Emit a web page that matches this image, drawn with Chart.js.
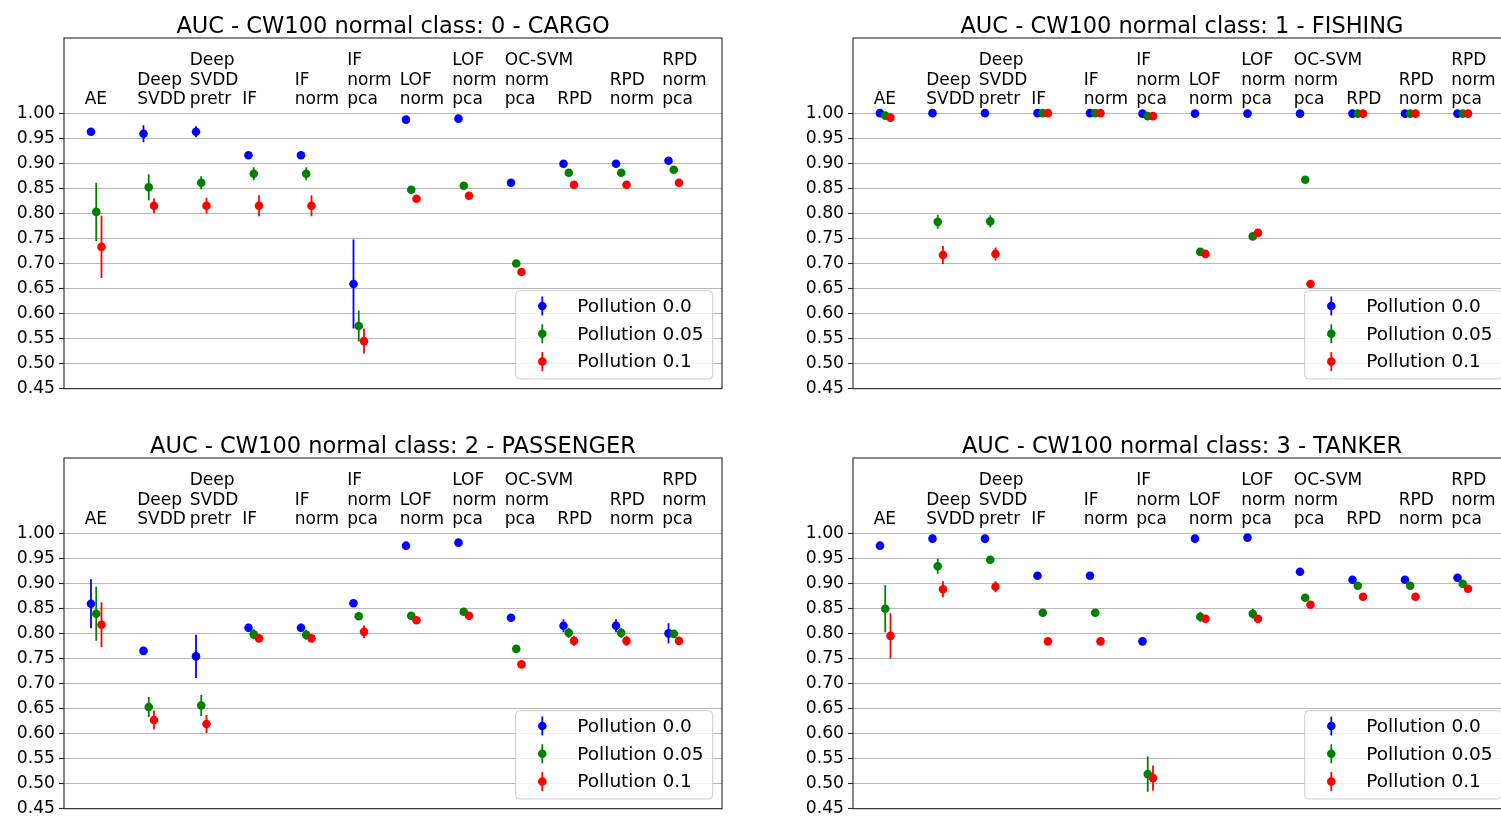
<!DOCTYPE html>
<html>
<head>
<meta charset="utf-8">
<script src="https://cdn.jsdelivr.net/npm/chart.js@4.4.1/dist/chart.umd.min.js"></script>
<style>
  html, body { margin: 0; padding: 0; background: #fff; width: 1501px; height: 816px; overflow: hidden; }
  canvas { position: absolute; }
</style>
</head>
<body>
<canvas id="g0" width="730" height="403" style="left:0;top:0"></canvas>
<canvas id="g1" width="730" height="403" style="left:789px;top:0"></canvas>
<canvas id="g2" width="730" height="403" style="left:0;top:420px"></canvas>
<canvas id="g3" width="730" height="403" style="left:789px;top:420px"></canvas>
<script>
// ===============================
// DATA
// ===============================

const methods = [
  ["AE"], ["Deep", "SVDD"], ["Deep", "SVDD", "pretr"], ["IF"], ["IF", "norm"],
  ["IF", "norm", "pca"], ["LOF", "norm"], ["LOF", "norm", "pca"], ["OC-SVM", "norm", "pca"],
  ["RPD"], ["RPD", "norm"], ["RPD", "norm", "pca"]
];
const yTicks = [0.45, 0.50, 0.55, 0.60, 0.65, 0.70, 0.75, 0.80, 0.85, 0.90, 0.95, 1.00];
const seriesNames = ["Pollution 0.0", "Pollution 0.05", "Pollution 0.1"];
const titles = [
  "AUC - CW100 normal class: 0 - CARGO",
  "AUC - CW100 normal class: 1 - FISHING",
  "AUC - CW100 normal class: 2 - PASSENGER",
  "AUC - CW100 normal class: 3 - TANKER"
];

// class 0 - CARGO
const cargoP00 = [0.963, 0.959, 0.963, 0.916, 0.916, 0.659, 0.987, 0.989, 0.861, 0.899, 0.899, 0.905];
const cargoE00 = [0.003, 0.017, 0.011, 0.003, 0.003, 0.089, 0, 0, 0, 0, 0, 0];
const cargoP05 = [0.803, 0.852, 0.861, 0.879, 0.879, 0.575, 0.847, 0.855, 0.700, 0.881, 0.881, 0.887];
const cargoE05 = [0.058, 0.026, 0.013, 0.013, 0.013, 0.031, 0.005, 0.004, 0, 0, 0, 0];
const cargoP10 = [0.733, 0.815, 0.815, 0.815, 0.815, 0.545, 0.829, 0.835, 0.683, 0.857, 0.857, 0.861];
const cargoE10 = [0.062, 0.015, 0.016, 0.021, 0.021, 0.025, 0, 0, 0, 0, 0, 0];

// class 1 - FISHING
const fishingP00 = [1.000, 1.000, 1.000, 1.000, 1.000, 0.999, 0.999, 0.999, 0.999, 0.999, 0.999, 0.999];
const fishingE00 = [0, 0, 0, 0, 0, 0, 0, 0, 0, 0, 0, 0];
const fishingP05 = [0.995, 0.783, 0.784, 1.000, 1.000, 0.994, 0.723, 0.754, 0.867, 0.999, 0.999, 0.999];
const fishingE05 = [0, 0.014, 0.012, 0, 0, 0, 0, 0, 0, 0, 0, 0];
const fishingP10 = [0.991, 0.717, 0.719, 1.000, 1.000, 0.994, 0.719, 0.761, 0.659, 0.999, 0.999, 0.999];
const fishingE10 = [0, 0.018, 0.013, 0, 0, 0, 0, 0, 0, 0, 0, 0];

// class 2 - PASSENGER
const passengerP00 = [0.859, 0.765, 0.754, 0.811, 0.811, 0.860, 0.975, 0.981, 0.831, 0.815, 0.815, 0.800];
const passengerE00 = [0.049, 0, 0.043, 0.008, 0.008, 0, 0, 0, 0, 0.013, 0.013, 0.020];
const passengerP05 = [0.839, 0.653, 0.656, 0.798, 0.797, 0.834, 0.835, 0.843, 0.769, 0.801, 0.801, 0.799];
const passengerE05 = [0.054, 0.020, 0.021, 0.010, 0.010, 0, 0, 0, 0, 0.010, 0.010, 0];
const passengerP10 = [0.817, 0.627, 0.619, 0.790, 0.790, 0.803, 0.826, 0.835, 0.738, 0.785, 0.785, 0.785];
const passengerE10 = [0.045, 0.019, 0.018, 0.007, 0.007, 0.013, 0, 0, 0, 0.010, 0.010, 0.006];

// class 3 - TANKER
const tankerP00 = [0.975, 0.989, 0.989, 0.915, 0.915, 0.784, 0.989, 0.991, 0.923, 0.907, 0.907, 0.911];
const tankerE00 = [0, 0, 0, 0, 0, 0, 0, 0, 0, 0, 0, 0];
const tankerP05 = [0.849, 0.934, 0.947, 0.841, 0.841, 0.519, 0.833, 0.839, 0.871, 0.895, 0.895, 0.899];
const tankerE05 = [0.047, 0.015, 0.004, 0, 0, 0.035, 0.010, 0.010, 0, 0, 0, 0];
const tankerP10 = [0.795, 0.888, 0.893, 0.784, 0.784, 0.511, 0.829, 0.829, 0.857, 0.873, 0.873, 0.889];
const tankerE10 = [0.045, 0.016, 0.011, 0, 0, 0.025, 0, 0, 0, 0, 0, 0];

// ===============================
// STYLE
// ===============================

const colors = ["#0000ff", "#008000", "#ff0000"];
const offsets = [-0.1, 0, 0.1];
const FONT = "'DejaVu Sans'";
Chart.defaults.font.family = FONT;

function roundBox(ctx, x, y, w, h, r) {
  ctx.beginPath();
  ctx.moveTo(x + r, y);
  ctx.lineTo(x + w - r, y);
  ctx.quadraticCurveTo(x + w, y, x + w, y + r);
  ctx.lineTo(x + w, y + h - r);
  ctx.quadraticCurveTo(x + w, y + h, x + w - r, y + h);
  ctx.lineTo(x + r, y + h);
  ctx.quadraticCurveTo(x, y + h, x, y + h - r);
  ctx.lineTo(x, y + r);
  ctx.quadraticCurveTo(x, y, x + r, y);
  ctx.closePath();
}

// frame, title, method labels inside the axes and legend box
const extras = {
  id: "extras",
  afterDraw(chart, args, opts) {
    const ctx = chart.ctx;
    const a = chart.chartArea;
    const xs = chart.scales.x;
    const ys = chart.scales.y;
    ctx.save();

    ctx.strokeStyle = "#262626";
    ctx.lineWidth = 1.1;
    ctx.strokeRect(a.left, a.top, a.right - a.left, a.bottom - a.top);

    ctx.fillStyle = "#000";
    ctx.font = "22.5px " + FONT;
    ctx.textAlign = "center";
    ctx.textBaseline = "alphabetic";
    ctx.fillText(opts.title, (a.left + a.right) / 2, a.top - 5.5);

    ctx.font = "17px " + FONT;
    ctx.textAlign = "left";
    const base = ys.getPixelForValue(1.0) - 9;
    methods.forEach(function (lines, i) {
      const x = xs.getPixelForValue(i) - 11.5;
      lines.forEach(function (t, k) {
        ctx.fillText(t, x, base - (lines.length - 1 - k) * 19.5);
      });
    });

    const bx = a.right - 206.3;
    const by = a.bottom - 98;
    roundBox(ctx, bx, by, 197, 88.3, 4);
    ctx.fillStyle = "rgba(255,255,255,0.8)";
    ctx.fill();
    ctx.strokeStyle = "#cccccc";
    ctx.lineWidth = 1;
    ctx.stroke();

    ctx.font = "18.5px " + FONT;
    ctx.textBaseline = "middle";
    seriesNames.forEach(function (name, k) {
      const cy = by + 15.3 + 27.8 * k;
      const mx = bx + 26.6;
      ctx.strokeStyle = colors[k];
      ctx.lineWidth = 1.8;
      ctx.beginPath();
      ctx.moveTo(mx, cy - 9.5);
      ctx.lineTo(mx, cy + 9.5);
      ctx.stroke();
      ctx.fillStyle = colors[k];
      ctx.beginPath();
      ctx.arc(mx, cy, 4.3, 0, Math.PI * 2);
      ctx.fill();
      ctx.fillStyle = "#000";
      ctx.fillText(name, bx + 61.6, cy + 1);
    });

    ctx.restore();
  }
};

// ===============================
// CHARTS
// ===============================

function makeChart(id, title, values, errors) {
  const datasets = [];
  values.forEach(function (vals, s) {
    const bars = [];
    const pts = [];
    vals.forEach(function (v, i) {
      const x = i + offsets[s];
      pts.push({ x: x, y: v });
      if (errors[s][i] > 0) {
        bars.push({ x: x, y: v - errors[s][i] });
        bars.push({ x: x, y: v + errors[s][i] });
        bars.push({ x: x, y: null });
      }
    });
    datasets.push({
      label: seriesNames[s] + " err",
      data: bars,
      showLine: true,
      spanGaps: false,
      borderColor: colors[s],
      borderWidth: 1.8,
      pointRadius: 0,
      order: 6 - s * 2
    });
    datasets.push({
      label: seriesNames[s],
      data: pts,
      backgroundColor: colors[s],
      borderWidth: 0,
      pointRadius: 4.3,
      pointHoverRadius: 4.3,
      order: 5 - s * 2
    });
  });

  return new Chart(document.getElementById(id), {
    type: "scatter",
    data: { datasets: datasets },
    options: {
      responsive: false,
      animation: false,
      events: [],
      layout: { padding: { top: 38, bottom: 0, right: 8, left: 0 } },
      plugins: {
        legend: { display: false },
        tooltip: { enabled: false },
        extras: { title: title }
      },
      scales: {
        x: { type: "linear", min: -0.614, max: 11.919, display: false },
        y: {
          min: 0.45,
          max: 1.15,
          afterBuildTicks: function (s) { s.ticks = yTicks.map(function (v) { return { value: v }; }); },
          afterFit: function (s) { s.width = 64; },
          ticks: {
            color: "#000",
            padding: 4,
            font: { size: 17.2 },
            callback: function (v) { return Number(v).toFixed(2); }
          },
          grid: { color: "#b8b8b8", lineWidth: 1, tickLength: 5, tickColor: "#262626", tickWidth: 1.1 },
          border: { display: false }
        }
      }
    },
    plugins: [extras]
  });
}

makeChart("g0", titles[0], [cargoP00, cargoP05, cargoP10], [cargoE00, cargoE05, cargoE10]);
makeChart("g1", titles[1], [fishingP00, fishingP05, fishingP10], [fishingE00, fishingE05, fishingE10]);
makeChart("g2", titles[2], [passengerP00, passengerP05, passengerP10], [passengerE00, passengerE05, passengerE10]);
makeChart("g3", titles[3], [tankerP00, tankerP05, tankerP10], [tankerE00, tankerE05, tankerE10]);
</script>
</body>
</html>
